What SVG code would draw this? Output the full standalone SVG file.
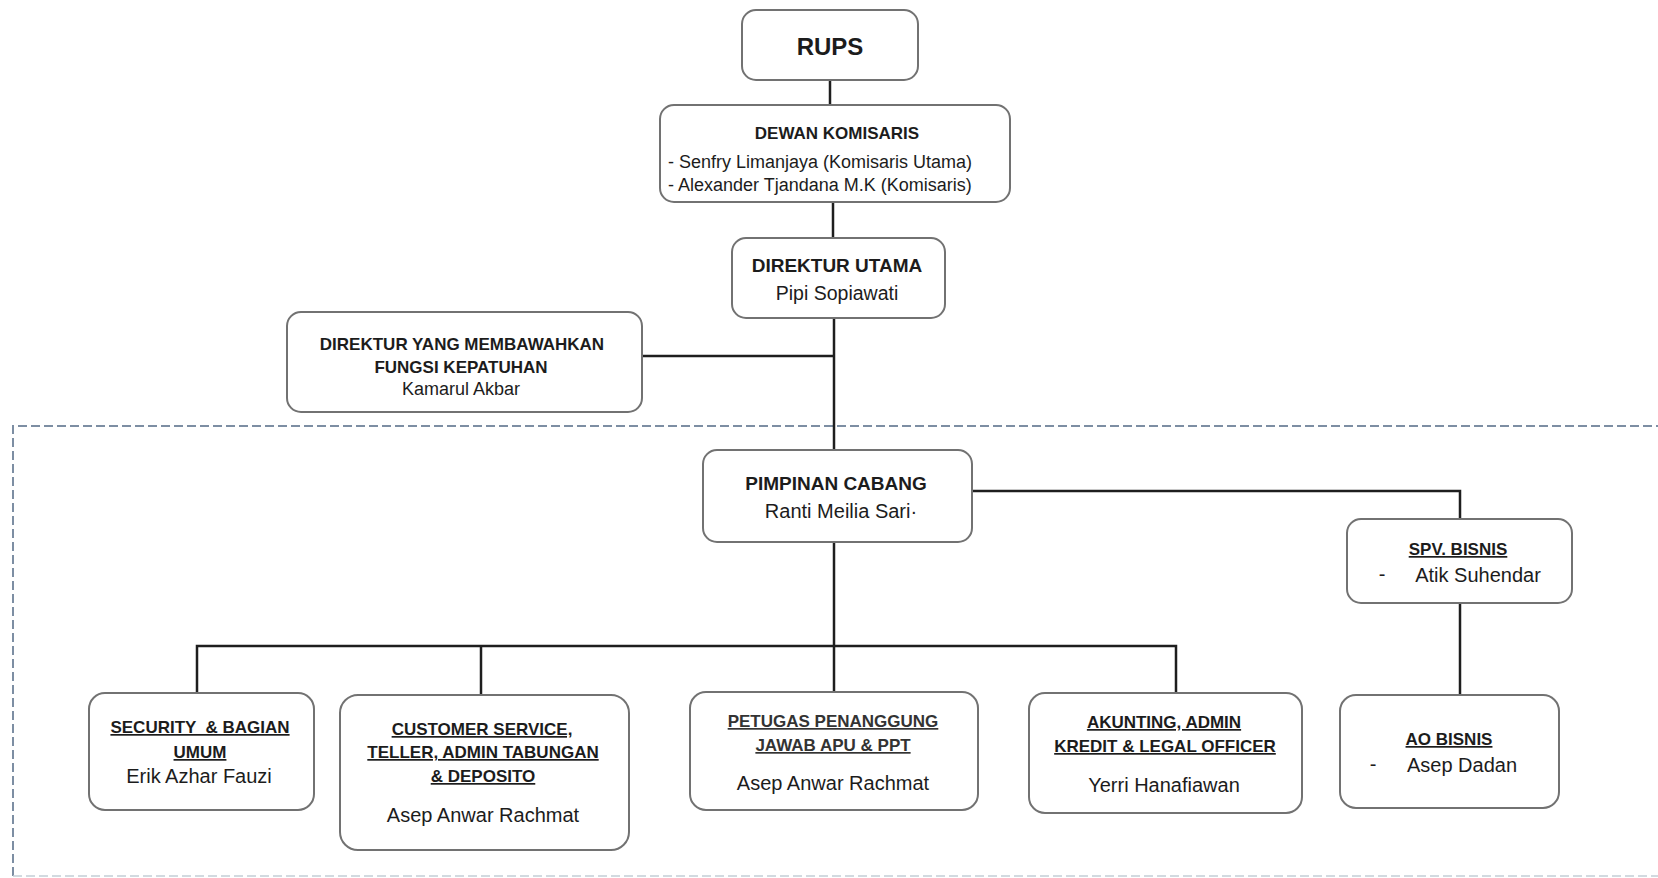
<svg xmlns="http://www.w3.org/2000/svg" width="1658" height="878" viewBox="0 0 1658 878">
<style>
.box{fill:#fff;stroke:#727272;stroke-width:2}
.ln{stroke:#1e1e1e;stroke-width:2.5;fill:none}
text{font-family:"Liberation Sans",Arial,sans-serif;fill:#1c1c1c;text-anchor:middle}
.h{font-weight:bold;font-size:17px}
.u{text-decoration:underline}
.n{font-size:20px}
.s{font-size:18px}
</style>
<rect width="1658" height="878" fill="#fff"/>
<g id="frame">
<path d="M13 876 V426 H1658" fill="none" stroke="#7d8ea3" stroke-width="2" stroke-dasharray="9 4"/>
<path d="M13 876 H1658" fill="none" stroke="#c3ced6" stroke-width="1.5" stroke-dasharray="9 4"/>
</g>
<g id="connectors">
<path class="ln" d="M830 80 V105"/>
<path class="ln" d="M833 202 V238"/>
<path class="ln" d="M834 318 V450"/>
<path class="ln" d="M642 356 H834"/>
<path class="ln" d="M972 491 H1460 V519"/>
<path class="ln" d="M1460 603 V695"/>
<path class="ln" d="M834 542 V692"/>
<path class="ln" d="M197 693 V646 H1176 V693"/>
<path class="ln" d="M481 646 V695"/>
</g>
<g id="rups">
<rect class="box" x="742" y="10" width="176" height="70" rx="14"/>
<text x="830" y="55" style="font-weight:bold;font-size:24px">RUPS</text>
</g>
<g id="dewan-komisaris">
<rect class="box" x="660" y="105" width="350" height="97" rx="14"/>
<text class="h" x="837" y="139">DEWAN KOMISARIS</text>
<text class="s" x="668" y="168" style="text-anchor:start">- Senfry Limanjaya (Komisaris Utama)</text>
<text class="s" x="668" y="191" style="text-anchor:start">- Alexander Tjandana M.K (Komisaris)</text>
</g>
<g id="direktur-utama">
<rect class="box" x="732" y="238" width="213" height="80" rx="14"/>
<text x="837" y="272" style="font-weight:bold;font-size:19px">DIREKTUR UTAMA</text>
<text x="837" y="300" style="font-size:19.5px">Pipi Sopiawati</text>
</g>
<g id="direktur-kepatuhan">
<rect class="box" x="287" y="312" width="355" height="100" rx="14"/>
<text class="h" x="462" y="350">DIREKTUR YANG MEMBAWAHKAN</text>
<text class="h" x="461" y="373">FUNGSI KEPATUHAN</text>
<text class="s" x="461" y="395">Kamarul Akbar</text>
</g>
<g id="pimpinan-cabang">
<rect class="box" x="703" y="450" width="269" height="92" rx="14"/>
<text x="836" y="490" style="font-weight:bold;font-size:19px">PIMPINAN CABANG</text>
<text class="n" x="841" y="518">Ranti Meilia Sari·</text>
</g>
<g id="spv-bisnis">
<rect class="box" x="1347" y="519" width="225" height="84" rx="14"/>
<text class="h u" x="1458" y="555">SPV. BISNIS</text>
<text class="n" x="1382" y="581">-</text>
<text class="n" x="1478" y="582">Atik Suhendar</text>
</g>
<g id="ao-bisnis">
<rect class="box" x="1340" y="695" width="219" height="113" rx="16"/>
<text class="h u" x="1449" y="745">AO BISNIS</text>
<text class="n" x="1373" y="771">-</text>
<text class="n" x="1462" y="772">Asep Dadan</text>
</g>
<g id="security">
<rect class="box" x="89" y="693" width="225" height="117" rx="16"/>
<text class="h u" x="200" y="733" style="white-space:pre">SECURITY  &amp; BAGIAN</text>
<text class="h u" x="200" y="758">UMUM</text>
<text class="n" x="199" y="783">Erik Azhar Fauzi</text>
</g>
<g id="customer-service">
<rect class="box" x="340" y="695" width="289" height="155" rx="18"/>
<text class="h u" x="482" y="735">CUSTOMER SERVICE,</text>
<text class="h u" x="483" y="758">TELLER, ADMIN TABUNGAN</text>
<text class="h u" x="483" y="782">&amp; DEPOSITO</text>
<text class="n" x="483" y="822">Asep Anwar Rachmat</text>
</g>
<g id="petugas-apu-ppt">
<rect class="box" x="690" y="692" width="288" height="118" rx="16"/>
<text class="h u" x="833" y="727" style="fill:#333">PETUGAS PENANGGUNG</text>
<text class="h u" x="833" y="751" style="fill:#333">JAWAB APU &amp; PPT</text>
<text class="n" x="833" y="790">Asep Anwar Rachmat</text>
</g>
<g id="akunting">
<rect class="box" x="1029" y="693" width="273" height="120" rx="16"/>
<text class="h u" x="1164" y="728">AKUNTING, ADMIN</text>
<text class="h u" x="1165" y="752">KREDIT &amp; LEGAL OFFICER</text>
<text class="n" x="1164" y="792">Yerri Hanafiawan</text>
</g>
</svg>
